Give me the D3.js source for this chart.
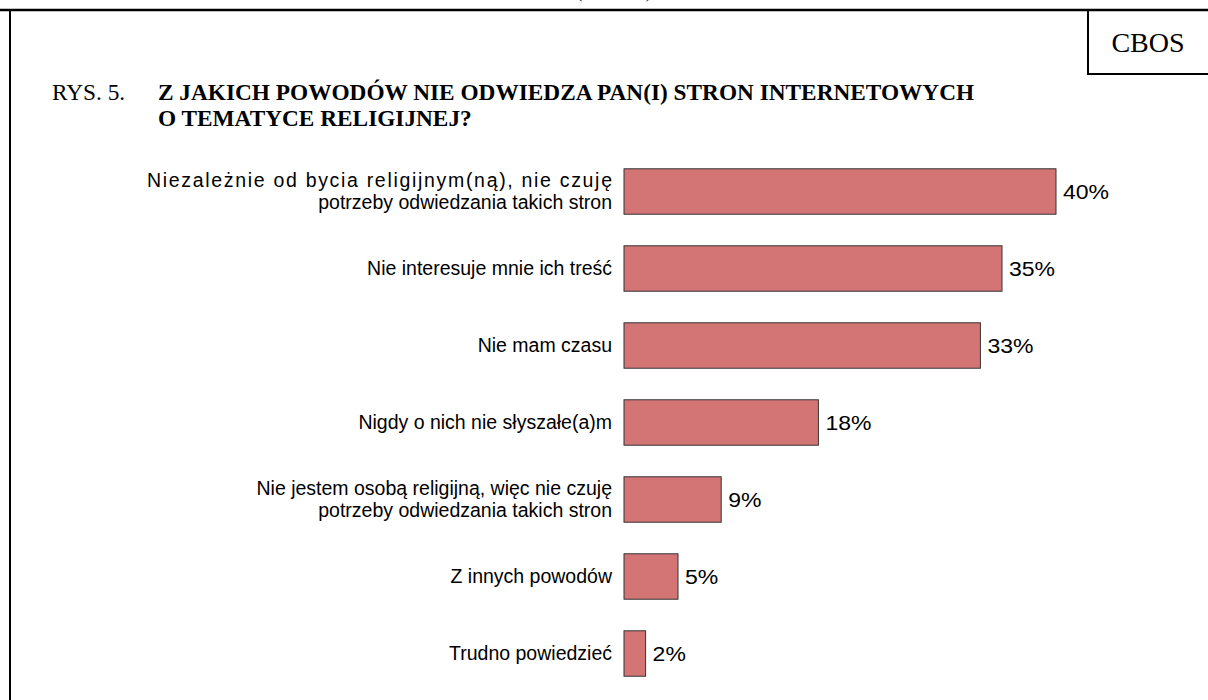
<!DOCTYPE html>
<html>
<head>
<meta charset="utf-8">
<script src="https://cdn.jsdelivr.net/npm/d3@7"></script>
<style>
	body { margin: 0; background: #fff; }
	svg { display: block; }
	.cat { font-family: "Liberation Sans", Arial, sans-serif; font-size: 19.5px; fill: #000; }
	.val { font-family: "Liberation Sans", Arial, sans-serif; font-size: 20px; fill: #000; }
	.serif { font-family: "Liberation Serif", "Times New Roman", serif; fill: #000; }
</style>
</head>
<body>
<div id="graphic"></div>
<script>
// data
const categories = [
	["Niezależnie od bycia religijnym(ną), nie czuję", "potrzeby odwiedzania takich stron"],
	["Nie interesuje mnie ich treść"],
	["Nie mam czasu"],
	["Nigdy o nich nie słyszałe(a)m"],
	["Nie jestem osobą religijną, więc nie czuję", "potrzeby odwiedzania takich stron"],
	["Z innych powodów"],
	["Trudno powiedzieć"]
];
const values = [40, 35, 33, 18, 9, 5, 2];
const titleLines = ["Z JAKICH POWODÓW NIE ODWIEDZA PAN(I) STRON INTERNETOWYCH", "O TEMATYCE RELIGIJNEJ?"];

const width = 1208, height = 700;
const graphicData = categories.map((c, i) => ({ id: i, label: c, value: values[i] }));

let svg = d3.select('#graphic')
	.append('svg')
	.attr('width', width)
	.attr('height', height);

// frame
svg.append('line')
	.attr('x1', 0).attr('x2', width)
	.attr('y1', 10).attr('y2', 10)
	.attr('stroke', '#000').attr('stroke-width', 2.5);
svg.append('line')
	.attr('x1', 10).attr('x2', 10)
	.attr('y1', 10).attr('y2', height)
	.attr('stroke', '#000').attr('stroke-width', 2);

// CBOS box
svg.append('path')
	.attr('d', 'M1088,10 V74 H' + (width + 5))
	.attr('fill', 'none')
	.attr('stroke', '#000').attr('stroke-width', 2);
svg.append('text')
	.attr('class', 'serif')
	.attr('x', 1148).attr('y', 52)
	.attr('text-anchor', 'middle')
	.style('font-size', '28px')
	.text('CBOS');

// header above the frame, clipped by the page edge as in the source
svg.append('text')
	.attr('class', 'serif')
	.attr('x', 614).attr('y', -2)
	.attr('text-anchor', 'middle')
	.attr('textLength', 74)
	.style('font-size', '16px')
	.text('(2013)');

// title
svg.append('text')
	.attr('class', 'serif')
	.attr('x', 52).attr('y', 100)
	.style('font-size', '23.3px')
	.text('RYS. 5.');
svg.append('g')
	.selectAll('text')
	.data(titleLines)
	.join('text')
	.attr('class', 'serif')
	.attr('x', 158)
	.attr('y', (d, i) => 100 + i * 26)
	.style('font-size', '23.3px')
	.style('font-weight', 'bold')
	.text(d => d);

//set up scales
const x = d3.scaleLinear()
	.domain([0, d3.max(values)])
	.range([624, 1056]);

const y = d3.scaleBand()
	.domain(graphicData.map(d => d.id))
	.range([153, 692])
	.paddingInner(0.41)
	.paddingOuter(0.205);

let chart = svg.append('g');

chart.selectAll('rect')
	.data(graphicData)
	.join('rect')
	.attr('x', x(0))
	.attr('y', d => y(d.id))
	.attr('width', d => x(d.value) - x(0))
	.attr('height', y.bandwidth())
	.attr('fill', '#d47575')
	.attr('stroke', '#333')
	.attr('stroke-width', 1);

// value labels run a little wide in the source
chart.selectAll('.val')
	.data(graphicData)
	.join('text')
	.attr('class', 'val')
	.attr('x', d => x(d.value) + 7)
	.attr('y', d => y(d.id) + y.bandwidth() / 2)
	.attr('dy', '0.35em')
	.text(d => d.value + '%')
	.each(function () {
		d3.select(this)
			.attr('textLength', this.getComputedTextLength() * 1.15)
			.attr('lengthAdjust', 'spacingAndGlyphs');
	});

chart.selectAll('.cat')
	.data(graphicData)
	.join('text')
	.attr('class', 'cat')
	.attr('text-anchor', 'end')
	.attr('x', x(0) - 12)
	.attr('y', d => y(d.id) + y.bandwidth() / 2)
	.each(function (d) {
		let n = d.label.length;
		d3.select(this).selectAll('tspan')
			.data(d.label)
			.join('tspan')
			.attr('x', x(0) - 12)
			.attr('dy', (t, i) => i === 0 ? (0.35 - (n - 1) * 0.6) + 'em' : '1.15em')
			.text(t => t);
	});

// first line of the first label runs wider in the source
chart.selectAll('.cat')
	.filter(d => d.id === 0)
	.selectAll('tspan')
	.filter((t, i) => i === 0)
	.attr('textLength', 612 - 147)
	.attr('lengthAdjust', 'spacing');
</script>
</body>
</html>
